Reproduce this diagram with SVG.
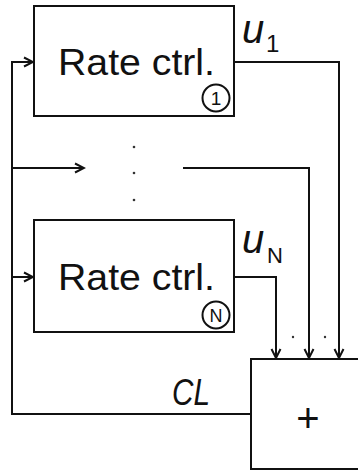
<svg xmlns="http://www.w3.org/2000/svg" width="358" height="474" viewBox="0 0 358 474">
<defs>
<marker id="arr" markerWidth="12" markerHeight="12" refX="10" refY="6" orient="auto" markerUnits="userSpaceOnUse">
<path d="M1,1.5 L10,6 L1,10.5" fill="none" stroke="#111" stroke-width="2"/>
</marker>
<style>
.box{fill:#fff;stroke:#111;stroke-width:2}
.ln{fill:none;stroke:#111;stroke-width:2}
.lbl{font-family:"Liberation Sans",Arial,sans-serif;fill:#111}
.it{font-style:italic}
.dot{fill:#333}
.ring{fill:none;stroke:#111;stroke-width:2}
</style>
</defs>
<rect width="358" height="474" fill="#fff"/>
<g id="connectors">
<path class="ln" d="M235,62 H339 V358" marker-end="url(#arr)"/>
<path class="ln" d="M183,168 H309 V358" marker-end="url(#arr)"/>
<path class="ln" d="M235,277 H276 V358" marker-end="url(#arr)"/>
<path class="ln" d="M251,414 H12 V62 H33" marker-end="url(#arr)"/>
<path class="ln" d="M12,168 H84" marker-end="url(#arr)"/>
<path class="ln" d="M12,277 H33" marker-end="url(#arr)"/>
<circle class="dot" cx="134" cy="147" r="1.3"/>
<circle class="dot" cx="134" cy="173" r="1.3"/>
<circle class="dot" cx="134" cy="200" r="1.3"/>
<circle class="dot" cx="293" cy="337" r="1.2"/>
<circle class="dot" cx="325" cy="337" r="1.2"/>
<text class="lbl it" x="242" y="43" font-size="40">u</text>
<text class="lbl" x="266" y="52" font-size="24">1</text>
<text class="lbl it" x="242" y="253" font-size="40">u</text>
<text class="lbl" x="267" y="263" font-size="22">N</text>
<text class="lbl it" x="172" y="405" font-size="37" textLength="38" lengthAdjust="spacingAndGlyphs">CL</text>
</g>
<g id="rate1">
<rect class="box" x="34" y="6" width="200" height="110"/>
<text class="lbl" x="58" y="75" font-size="37" textLength="157" lengthAdjust="spacingAndGlyphs">Rate ctrl.</text>
<circle class="ring" cx="216" cy="98" r="13.5"/>
<text class="lbl" x="216" y="105" font-size="19" text-anchor="middle">1</text>
</g>
<g id="rateN">
<rect class="box" x="34" y="220" width="200" height="112"/>
<text class="lbl" x="58" y="290" font-size="37" textLength="157" lengthAdjust="spacingAndGlyphs">Rate ctrl.</text>
<circle class="ring" cx="216" cy="315" r="13.5"/>
<text class="lbl" x="216" y="322" font-size="18" text-anchor="middle">N</text>
</g>
<g id="sum">
<rect class="box" x="251" y="359" width="120" height="110"/>
<text class="lbl" x="308" y="432" font-size="40" text-anchor="middle">+</text>
</g>
</svg>
